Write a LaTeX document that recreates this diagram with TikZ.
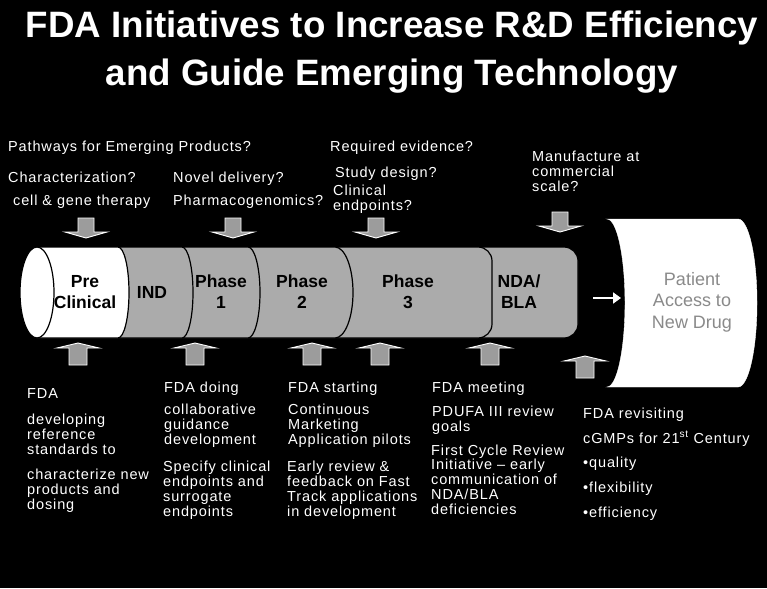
\documentclass[tikz,border=0pt]{standalone}
\usepackage{fontspec}
\setmainfont{Liberation Sans}
\newfontfamily\notefont[LetterSpace=6]{Liberation Sans}
\usetikzlibrary{arrows.meta}

\definecolor{seggray}{HTML}{ABABAB}
\definecolor{arrgray}{HTML}{9C9C9C}
\definecolor{labgray}{HTML}{8A8A8A}

% Multi-line nodes below are placed by the baseline of their last line.
\tikzset{
  note/.style={anchor=base west, inner sep=0pt, align=left, text=white,
    font=\notefont\fontsize{14.5}{14.7}\selectfont},
  headline/.style={anchor=base, inner sep=0pt, text=white,
    font=\bfseries\fontsize{36.7}{40}\selectfont},
  seg/.style={fill=seggray, draw=black, line width=1.2pt},
  seglabel/.style={anchor=base, inner sep=0pt, align=center, text=black,
    font=\bfseries\fontsize{17.5}{21.5}\selectfont},
  blkdown/.pic={
    \draw[fill=arrgray, draw=white, line width=0.9pt]
      (-8,0) -- (8,0) -- (8,14) -- (21,14) -- (0,20) -- (-21,14) -- (-8,14) -- cycle;
  },
  blkup/.pic={
    \draw[fill=arrgray, draw=white, line width=0.9pt]
      (0,0) -- (21,5) -- (9,5) -- (9,22) -- (-9,22) -- (-9,5) -- (-21,5) -- cycle;
  }
}

\begin{document}
\begin{tikzpicture}[x=1pt, y=-1pt]
  % canvas
  \fill[black] (0,0) rectangle (767,588);
  \path[use as bounding box] (0,0) rectangle (767,588);

  % heading
  \node[headline] (h1) at (392,38) {FDA Initiatives to Increase R\&D Efficiency};
  \node[headline] (h2) at (392,86) {and Guide Emerging Technology};

  % pipeline cylinder, drawn from the far end back to the front
  \draw[seg] (37,247) -- (564,247) arc[start angle=-90, end angle=0, radius=14]
    -- (578,324) arc[start angle=0, end angle=90, radius=14] -- (37,338) -- cycle;
  \draw[seg] (37,247) -- (478,247) arc[start angle=-90, end angle=0, radius=14]
    -- (492,324) arc[start angle=0, end angle=90, radius=14] -- (37,338) -- cycle;
  \draw[seg] (37,247) -- (335,247)
    arc[start angle=-90, end angle=90, x radius=18, y radius=45.5] -- (37,338) -- cycle;
  \draw[seg] (37,247) -- (248,247)
    arc[start angle=-90, end angle=90, x radius=12, y radius=45.5] -- (37,338) -- cycle;
  \draw[seg] (37,247) -- (182,247)
    arc[start angle=-90, end angle=90, x radius=11, y radius=45.5] -- (37,338) -- cycle;
  \draw[seg, fill=white] (37,247) -- (118,247)
    arc[start angle=-90, end angle=90, x radius=11, y radius=45.5] -- (37,338) -- cycle;
  \draw[fill=white, draw=black, line width=1.2pt] (37,292.5) ellipse[x radius=17, y radius=45.5];

  % stage names
  \node[seglabel] (pre) at (85,308.5) {Pre\\Clinical};
  \node[seglabel] (ind) at (152,298) {IND};
  \node[seglabel] (ph1) at (221,308.5) {Phase\\1};
  \node[seglabel] (ph2) at (302,308.5) {Phase\\2};
  \node[seglabel] (ph3) at (408,308.5) {Phase\\3};
  \node[seglabel] (nda) at (519,308.5) {NDA/\\BLA};

  % patient access panel: both side edges bow to the right
  \draw[fill=white, draw=white] (607,219) -- (738,219)
    .. controls (748.5,219) and (757,256.6) .. (757,303)
    .. controls (757,349.4) and (748.5,387) .. (738,387)
    -- (607,387)
    .. controls (617,387) and (625,349.4) .. (625,303)
    .. controls (625,256.6) and (617,219) .. (607,219) -- cycle;
  \node[anchor=base, inner sep=0pt, align=center, text=labgray,
    font=\fontsize{18}{21.5}\selectfont] (patient) at (692,328) {Patient\\Access to\\New Drug};

  \coordinate (pa) at (593,298);
  \coordinate (pb) at (621,298);
  \draw[white, line width=2.5pt, -{Triangle[length=8pt, width=11pt]}] (pa) -- (pb);

  % block arrows into the pipeline
  \pic at (86,218) {blkdown};
  \pic at (233,218) {blkdown};
  \pic at (376,218) {blkdown};
  \pic at (560,212) {blkdown};
  \pic at (78,343) {blkup};
  \pic at (195,343) {blkup};
  \pic at (312,343) {blkup};
  \pic at (380,343) {blkup};
  \pic at (490,343) {blkup};
  \pic at (585,356) {blkup};

  % open questions
  \node[note] (q1) at (8,152) {Pathways for Emerging Products?};
  \node[note] (q2) at (8,182) {Characterization?};
  \node[note] (q3) at (13,205) {cell \& gene therapy};
  \node[note] (q4) at (173,182) {Novel delivery?};
  \node[note] (q5) at (173,205) {Pharmacogenomics?};
  \node[note] (q6) at (330,152) {Required evidence?};
  \node[note] (q7) at (335,177) {Study design?};
  \node[note] (q8) at (333,210.5) {Clinical\\endpoints?};
  \node[note] (q9) at (532,191) {Manufacture at\\commercial\\scale?};

  % FDA actions
  \node[note] (a1) at (27,398) {FDA};
  \node[note] (a2) at (27,454) {developing\\reference\\standards to};
  \node[note] (a3) at (27,509) {characterize new\\products and\\dosing};
  \node[note] (a4) at (164,392) {FDA doing};
  \node[note] (a5) at (164,444) {collaborative\\guidance\\development};
  \node[note] (a6) at (163,516) {Specify clinical\\endpoints and\\surrogate\\endpoints};
  \node[note] (a7) at (288,392) {FDA starting};
  \node[note] (a8) at (288,444) {Continuous\\Marketing\\Application pilots};
  \node[note] (a9) at (287,516) {Early review \&\\feedback on Fast\\Track applications\\in development};
  \node[note] (a10) at (432,392) {FDA meeting};
  \node[note] (a11) at (432,431.5) {PDUFA III review\\goals};
  \node[note] (a12) at (431,514) {First Cycle Review\\Initiative – early\\communication of\\NDA/BLA\\deficiencies};
  \node[note] (a13) at (583,418) {FDA revisiting};
  \node[note] (a14) at (583,443) {cGMPs for 21\textsuperscript{st} Century};
  \node[note] (a15) at (583,467) {•quality};
  \node[note] (a16) at (583,492) {•flexibility};
  \node[note] (a17) at (583,517) {•efficiency};
\end{tikzpicture}
\end{document}
